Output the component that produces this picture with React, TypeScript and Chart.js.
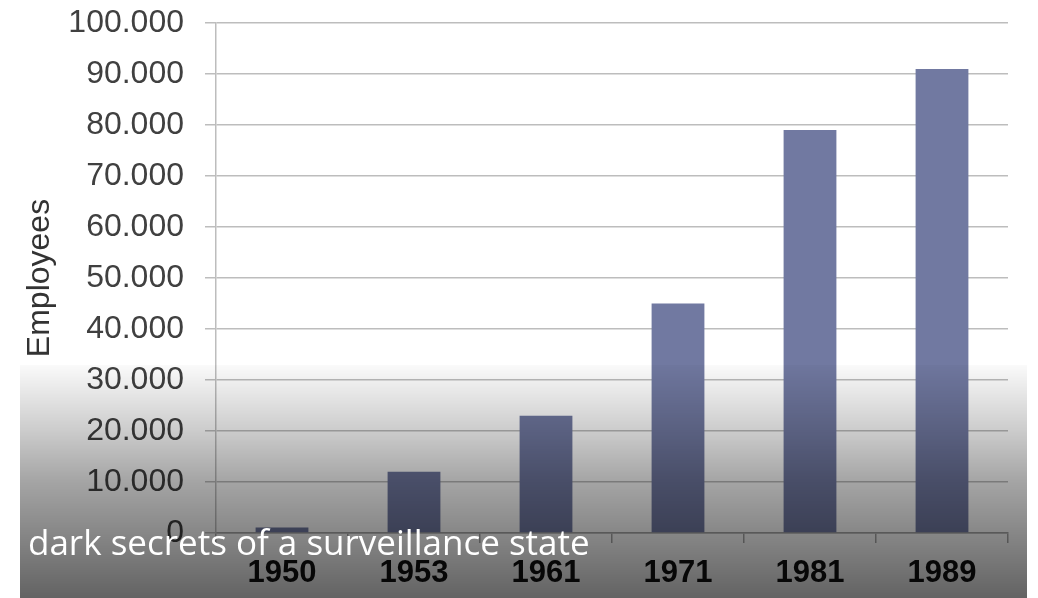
import { useEffect, useRef } from 'react';
import { Chart, registerables } from 'chart.js';

Chart.register(...registerables);

const years = ['1950', '1953', '1961', '1971', '1981', '1989'];
const employees = [1100, 12000, 23000, 45000, 79000, 91000];
const yMin = 0;
const yMax = 100000;
const yStep = 10000;
const axisTitle = 'Employees';
const caption = 'dark secrets of a surveillance state';

const formatThousands = (v: number) =>
  String(Math.round(v)).replace(/\B(?=(\d{3})+(?!\d))/g, '.');

export default function App() {
  const ref = useRef<HTMLCanvasElement>(null);

  useEffect(() => {
    const chart = new Chart(ref.current!, {
      type: 'bar',
      data: {
        labels: years,
        datasets: [
          {
            data: employees,
            backgroundColor: '#7179a1',
            barPercentage: 0.4,
            categoryPercentage: 1,
          },
        ],
      },
      options: {
        animation: false,
        responsive: true,
        maintainAspectRatio: false,
        layout: { padding: { left: 0, right: 30, top: 23, bottom: 0 } },
        plugins: { legend: { display: false }, tooltip: { enabled: false } },
        scales: {
          x: {
            grid: {
              offset: true,
              drawOnChartArea: false,
              color: '#a8a8a8',
              lineWidth: 1.5,
              tickLength: 10,
            },
            border: { color: '#a8a8a8', width: 1.5 },
            ticks: {
              font: { family: 'Liberation Sans', size: 31, weight: 'bold' },
              color: '#111111',
              padding: 12,
            },
            afterFit: (s: any) => {
              s.height = 65;
              s.paddingLeft = 0;
              s.paddingRight = 0;
            },
          },
          y: {
            min: yMin,
            max: yMax,
            ticks: {
              stepSize: yStep,
              callback: (v: any) => formatThousands(Number(v)),
              font: { family: 'Liberation Sans', size: 32 },
              color: '#404040',
              padding: 21,
            },
            grid: { color: '#bdbdbd', lineWidth: 1.5, tickLength: 11 },
            border: { color: '#bdbdbd', width: 1.5 },
            title: {
              display: true,
              text: axisTitle,
              font: { family: 'Liberation Sans', size: 32 },
              color: '#333333',
              padding: { top: 21, bottom: 0 },
            },
            afterFit: (s: any) => {
              s.width = 216;
              s.paddingTop = 0;
              s.paddingBottom = 0;
            },
          },
        },
      },
    } as any);
    return () => chart.destroy();
  }, []);

  return (
    <div
      style={{
        position: 'fixed',
        left: 0,
        top: 0,
        width: 1038,
        height: 598,
        background: '#ffffff',
        overflow: 'hidden',
      }}
    >
      <canvas ref={ref} />
      <div
        style={{
          position: 'absolute',
          left: 20,
          top: 365,
          width: 1007,
          height: 233,
          pointerEvents: 'none',
          background:
            'linear-gradient(to bottom, rgba(0,0,0,0.02) 0%, rgba(0,0,0,0.2) 28%, rgba(0,0,0,0.35) 49%, rgba(0,0,0,0.47) 72%, rgba(0,0,0,0.61) 100%)',
        }}
      />
      <div
        style={{
          position: 'absolute',
          left: 28,
          top: 518,
          color: '#ffffff',
          fontFamily: '"Open Sans", sans-serif',
          fontSize: 35,
          fontWeight: 400,
          whiteSpace: 'nowrap',
        }}
      >
        {caption}
      </div>
    </div>
  );
}
